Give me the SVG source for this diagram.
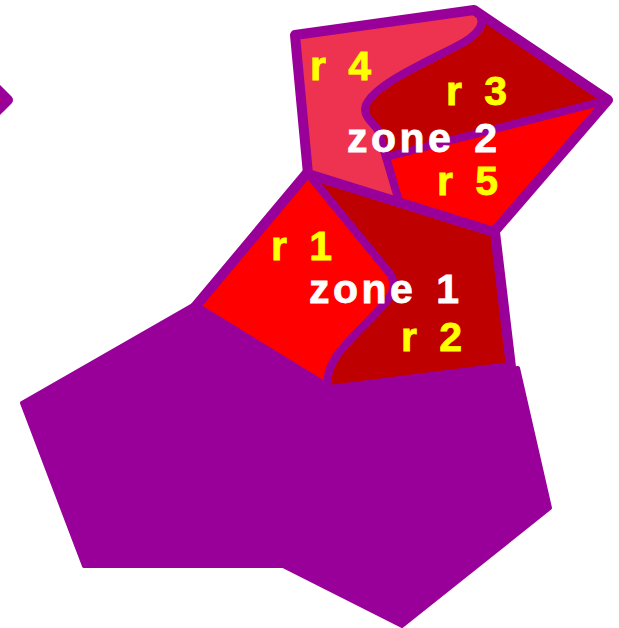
<svg xmlns="http://www.w3.org/2000/svg" width="619" height="628" viewBox="0 0 619 628">
<style>
.outline{fill:none;stroke:#990099;stroke-width:10;stroke-linejoin:round;stroke-linecap:round}
.inner{fill:none;stroke:#990099;stroke-width:8;stroke-linejoin:round;stroke-linecap:round}
.red{fill:#ff0000}
.dark{fill:#bf0000}
.pink{fill:#ee3350}
.zl{font-family:"Liberation Sans",Arial,sans-serif;font-weight:bold;font-size:41px;letter-spacing:3.5px;word-spacing:5px;fill:#ffffff;stroke:#ffffff;stroke-width:0.8}
.rl{font-family:"Liberation Sans",Arial,sans-serif;font-weight:bold;font-size:41px;letter-spacing:3.5px;word-spacing:4px;fill:#ffff00;stroke:#ffff00;stroke-width:0.8}
</style>
<rect width="619" height="628" fill="#ffffff"/>
<g id="edge-shape">
<path d="M-30,62 L8,100 L-30,138 Z" fill="#ff0000" stroke="#990099" stroke-width="10" stroke-linejoin="round"/>
</g>
<g id="base">
<path d="M22,403 L193,305 L325,386 L518,368 L550,508 L402,626 L283,566 L84,566 Z" fill="#990099" stroke="#990099" stroke-width="4" stroke-linejoin="round"/>
</g>
<g id="zone1">
<path class="dark" d="M307,173 L495,232 L511,367 L330,390 L195,307 Z"/>
<path class="red" d="M307,173 L387,270 Q399,283 389,298 C365,330 322,355 328,390 L195,307 Z"/>
<path class="inner" d="M310,176 L387,270 Q399,283 389,298 C365,330 322,355 328,388"/>
<path class="outline" d="M307,173 L495,232 L511,367 L330,390 L195,307 Z"/>
<text class="zl" x="309" y="303">zone 1</text>
<text class="rl" x="271" y="260">r 1</text>
<text class="rl" x="401" y="351">r 2</text>
</g>
<g id="zone2">
<path class="dark" d="M295,35 L474,10 L608,100 L494,232 L308,174 Z"/>
<path class="pink" d="M295,35 L474,10 C490,20 480,35 455,47 C420,65 375,85 366,105 C362,115 372,122 378,130 L398,198 L308,174 Z"/>
<path class="red" d="M386,157 L608,100 L494,232 L398,198 Z"/>
<path class="inner" d="M474,10 C490,20 480,35 455,47 C420,65 375,85 366,105 C362,115 372,122 378,130 L398,198"/>
<path class="inner" d="M386,157 L608,100"/>
<path class="outline" d="M295,35 L474,10 L608,100 L494,232 L308,174 Z"/>
<text class="zl" x="347" y="152">zone 2</text>
<text class="rl" x="310" y="80">r 4</text>
<text class="rl" x="446" y="105">r 3</text>
<text class="rl" x="437" y="195">r 5</text>
</g>
</svg>
